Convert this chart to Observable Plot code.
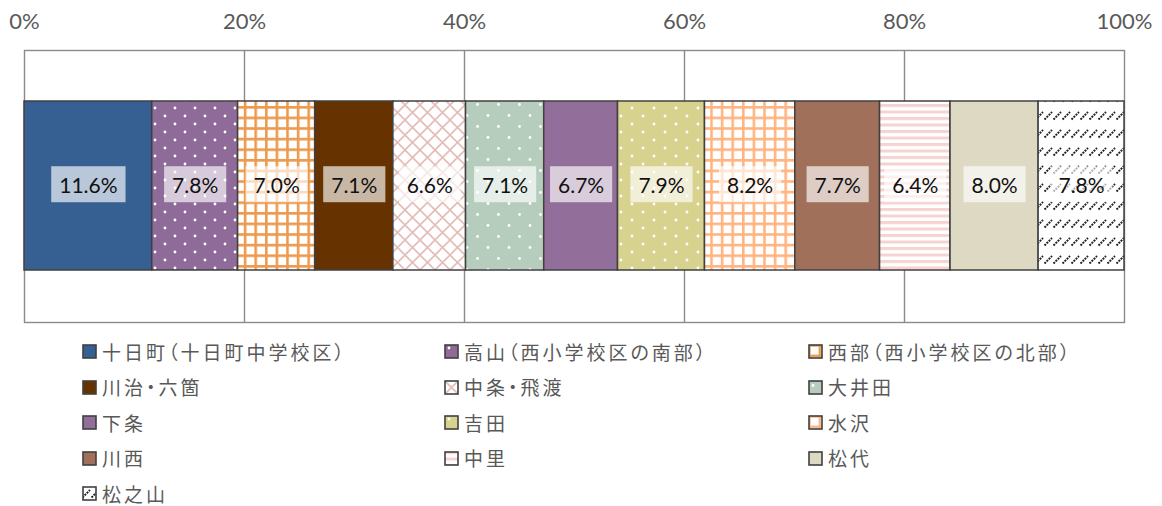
<!DOCTYPE html>
<html><head><meta charset="utf-8">
<script src="https://cdn.jsdelivr.net/npm/d3@7"></script>
<script src="https://cdn.jsdelivr.net/npm/@observablehq/plot@0.6"></script>
<style>
body{margin:0;background:#fff;}
#wrap{position:relative;width:1162px;height:506px;}
#legend{position:absolute;left:82px;top:334px;display:grid;grid-template-columns:362px 364px 300px;grid-auto-rows:35.5px;font-family:"Noto Sans CJK JP";font-size:19px;letter-spacing:3px;font-feature-settings:"palt";color:#595959;line-height:20px;}
.item{display:flex;align-items:center;white-space:nowrap;}
.item svg{margin-right:5px;flex:none;}
</style></head><body>
<svg width="0" height="0" style="position:absolute">
<defs>
<pattern id="pDotPurple" patternUnits="userSpaceOnUse" width="20" height="16">
<rect width="20" height="16" fill="#8e6b99"/><circle cx="5" cy="4" r="1.4" fill="#fff"/><circle cx="15" cy="12" r="1.4" fill="#fff"/></pattern>
<pattern id="pGridOrange" patternUnits="userSpaceOnUse" width="10.6" height="10.6">
<rect width="10.6" height="10.6" fill="#fff"/><path d="M1.3,0V10.6M0,1.3H10.6" stroke="#ec9a4e" stroke-width="2.6"/></pattern>
<pattern id="pDiamond" patternUnits="userSpaceOnUse" width="15" height="15">
<rect width="15" height="15" fill="#fff"/><path d="M0,0L15,15M15,0L0,15" stroke="#e4bcb8" stroke-width="1.6"/></pattern>
<pattern id="pDotGreen" patternUnits="userSpaceOnUse" width="21" height="22">
<rect width="21" height="22" fill="#b6cdbd"/><circle cx="5" cy="5.5" r="1.4" fill="#fff"/><circle cx="15.5" cy="16.5" r="1.4" fill="#fff"/></pattern>
<pattern id="pDotYellow" patternUnits="userSpaceOnUse" width="22" height="16">
<rect width="22" height="16" fill="#d8d28f"/><circle cx="5" cy="4" r="1.4" fill="#fff"/><circle cx="16" cy="12" r="1.4" fill="#fff"/></pattern>
<pattern id="pGridPeach" patternUnits="userSpaceOnUse" width="10.6" height="10.6">
<rect width="10.6" height="10.6" fill="#fff"/><path d="M1.3,0V10.6M0,1.3H10.6" stroke="#ffb582" stroke-width="2.6"/></pattern>
<pattern id="pStripe" patternUnits="userSpaceOnUse" width="10" height="6.5">
<rect width="10" height="6.5" fill="#fff"/><rect y="0" width="10" height="3" fill="#f5d3d0"/></pattern>
<pattern id="pDash" patternUnits="userSpaceOnUse" width="9" height="18">
<rect width="9" height="18" fill="#fff"/><path d="M0.5,11.5L8,4" stroke="#222" stroke-width="2" stroke-dasharray="2 1"/></pattern>
</defs></svg>
<div id="wrap"><div id="legend"></div></div>
<script>
const areas = ["十日町（十日町中学校区）","高山（西小学校区の南部）","西部（西小学校区の北部）","川治・六箇","中条・飛渡","大井田","下条","吉田","水沢","川西","中里","松代","松之山"];
const shares = [11.6, 7.8, 7.0, 7.1, 6.6, 7.1, 6.7, 7.9, 8.2, 7.7, 6.4, 8.0, 7.8];
const fills = ["#366092","url(#pDotPurple)","url(#pGridOrange)","#663300","url(#pDiamond)","url(#pDotGreen)","#926f9a","url(#pDotYellow)","url(#pGridPeach)","#a1705a","url(#pStripe)","#ddd9c3","url(#pDash)"];
const xTicks = [0, 0.2, 0.4, 0.6, 0.8, 1];

const data = areas.map((a, i) => ({area: a, share: shares[i], g: "all"}));

const chart = Plot.plot({
  width: 1162, height: 335,
  marginTop: 50, marginBottom: 13, marginLeft: 24, marginRight: 38,
  style: {fontFamily: "Lato, 'Open Sans', sans-serif", fontSize: "22px", color: "#595959", background: "transparent", overflow: "visible"},
  x: {domain: [0, 1], axis: null},
  y: {axis: null, padding: 0.2308},
  color: {type: "ordinal", domain: areas, range: fills},
  marks: [
    Plot.gridX({ticks: xTicks.slice(1, -1), stroke: "#8a8a8a", strokeOpacity: 1, strokeWidth: 1.4}),
    Plot.frame({stroke: "#8a8a8a", strokeWidth: 1.4}),
    Plot.axisX({anchor: "top", label: null, ticks: xTicks, tickFormat: d => Math.round(d * 100) + "%", tickSize: 0, tickPadding: 22, fontSize: 22, fill: "#595959"}),
    Plot.barX(data, Plot.stackX({offset: "normalize", x: "share", y: "g", fill: "area", stroke: "#404040", strokeWidth: 1.5})),
    Plot.text(data, Plot.stackX({offset: "normalize", x: "share", y: "g", text: d => d.share.toFixed(1) + "%", fill: "#111", fontSize: 21}))
  ]
});
const wrap = document.getElementById("wrap");
wrap.insertBefore(chart, wrap.firstChild);

// label background boxes
const ns = "http://www.w3.org/2000/svg";
const textGroups = chart.querySelectorAll('g[aria-label="text"]');
textGroups.forEach(g => {
  g.querySelectorAll("text").forEach(t => {
    const b = t.getBBox();
    const r = document.createElementNS(ns, "rect");
    const cy = b.y + b.height / 2;
    r.setAttribute("x", b.x - 8);
    r.setAttribute("y", cy - 18);
    r.setAttribute("width", b.width + 16);
    r.setAttribute("height", 36);
    r.setAttribute("fill", "#fff");
    r.setAttribute("fill-opacity", 0.65);
    if (t.getAttribute("transform")) r.setAttribute("transform", t.getAttribute("transform"));
    t.parentNode.insertBefore(r, t);
  });
});

// legend
const legend = document.getElementById("legend");
areas.forEach((a, i) => {
  const item = document.createElement("div");
  item.className = "item";
  item.innerHTML = `<svg width="15" height="15"><rect x="1" y="1" width="13" height="13" fill="${fills[i]}" stroke="#404040" stroke-width="1.6"/></svg><span>${a}</span>`;
  legend.appendChild(item);
});
</script>
</body></html>
